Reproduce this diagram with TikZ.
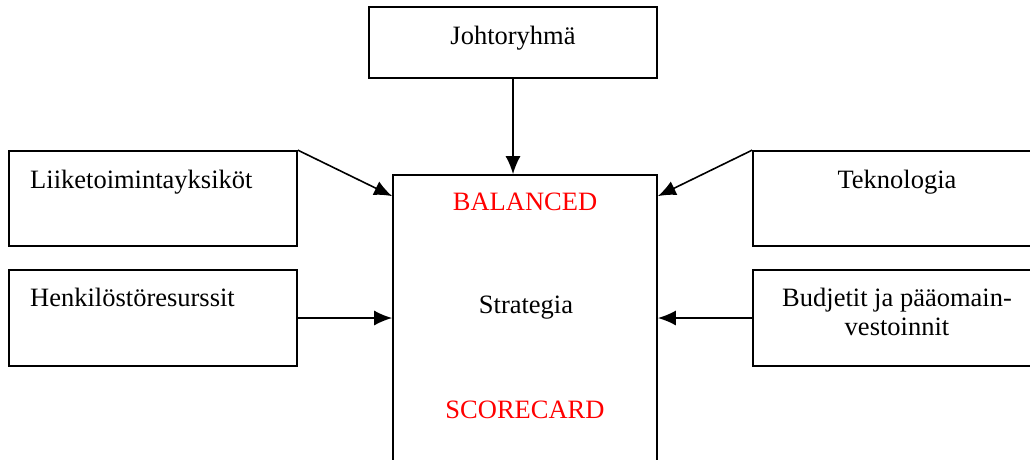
\documentclass[tikz,border=0pt]{standalone}
\usepackage{fontspec}
\setmainfont{Liberation Serif}
\usetikzlibrary{arrows.meta,calc}
\begin{document}
\begin{tikzpicture}[x=1pt,y=-1pt,
  box/.style={draw,line width=1.7pt,rectangle,inner sep=0pt,anchor=center},
  txt/.style={inner sep=0pt,font=\fontsize{26.5}{30}\selectfont},
  conn/.style={line width=1.6pt,-{Latex[length=18pt,width=15pt]}}]
\useasboundingbox (0,0) rectangle (1030,459);
\clip (0,0) rectangle (1030,459);
% boxes
\node[box,minimum width=288pt,minimum height=71pt] (johto) at (513,42.5) {};
\node[box,minimum width=288pt,minimum height=95pt] (liike) at (153,198.5) {};
\node[box,minimum width=288pt,minimum height=96pt] (henk) at (153,318) {};
\node[box,minimum width=284pt,minimum height=95pt] (tekno) at (895,198.5) {};
\node[box,minimum width=284pt,minimum height=96pt] (budj) at (895,318) {};
\node[box,minimum width=264pt,minimum height=300pt] (strat) at (525,325) {};
% texts
\node[txt,anchor=base] (tjohto) at (513,44) {Johtoryhmä};
\node[txt,anchor=base west] (tliike) at (30,188) {Liiketoimintayksiköt};
\node[txt,anchor=base west] (thenk) at (30,306) {Henkilöstöresurssit};
\node[txt,anchor=base] (ttekno) at (897,188) {Teknologia};
\node[txt,anchor=base] (tbudj1) at (897,306) {Budjetit ja pääomain-};
\node[txt,anchor=base] (tbudj2) at (897,335) {vestoinnit};
\node[txt,anchor=base,text=red] (tbal) at (525,210) {BALANCED};
\node[txt,anchor=base] (tstrat) at (526,313) {Strategia};
\node[txt,anchor=base,text=red] (tscore) at (525,418) {SCORECARD};
% connectors
\draw[conn] (johto.south) -- (strat.north -| johto.south);
\draw[conn] (liike.north east) -- ($(strat.north west)+(0,22)$);
\draw[conn] (henk.east) -- (henk.east -| strat.west);
\draw[conn] (tekno.north west) -- ($(strat.north east)+(0,22)$);
\draw[conn] (budj.west) -- (budj.west -| strat.east);
\end{tikzpicture}
\end{document}
